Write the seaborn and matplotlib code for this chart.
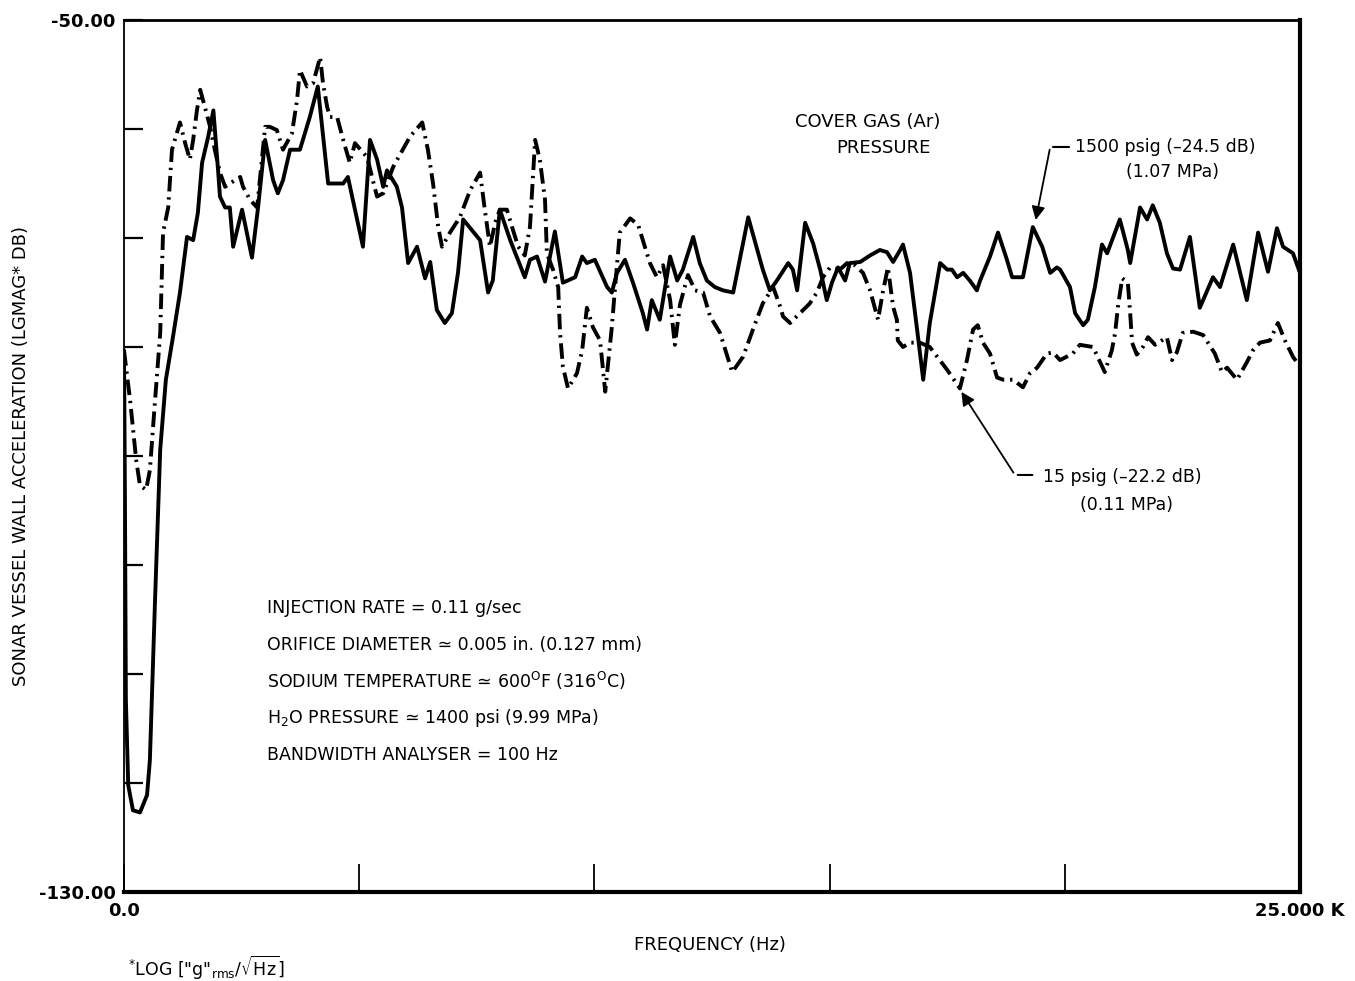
import numpy as np
import pandas as pd
import matplotlib
matplotlib.use("Agg")
import matplotlib.pyplot as plt
import seaborn as sns

# ---------------- data (frequency in kHz, level in dB) ----------------
freq_1500 = [0.00, 0.02, 0.04, 0.09, 0.19, 0.34, 0.49, 0.55, 0.66, 0.77, 0.89, 1.04, 1.19, 1.34, 1.47,
             1.57, 1.66, 1.79, 1.90, 2.00, 2.04, 2.15, 2.25, 2.32, 2.51, 2.72, 2.85, 3.00, 3.17, 3.27,
             3.38, 3.53, 3.74, 3.95, 4.12, 4.34, 4.66, 4.76, 5.08, 5.23, 5.38, 5.51, 5.59, 5.80, 5.91,
             6.04, 6.23, 6.40, 6.51, 6.65, 6.82, 6.97, 7.10, 7.21, 7.42, 7.57, 7.74, 7.84, 7.99, 8.21,
             8.52, 8.63, 8.78, 8.95, 9.16, 9.33, 9.59, 9.74, 9.84, 10.01, 10.27, 10.37, 10.48, 10.65,
             10.82, 11.03, 11.12, 11.22, 11.39, 11.61, 11.76, 11.88, 12.10, 12.24, 12.39, 12.56, 12.73,
             12.95, 13.27, 13.58, 13.73, 13.88, 14.12, 14.22, 14.31, 14.48, 14.65, 14.80, 14.94, 15.05,
             15.18, 15.33, 15.43, 15.65, 15.86, 16.07, 16.22, 16.35, 16.50, 16.56, 16.71, 16.86, 16.99,
             17.13, 17.35, 17.50, 17.60, 17.71, 17.84, 17.98, 18.13, 18.20, 18.41, 18.58, 18.77, 18.88,
             19.11, 19.32, 19.52, 19.69, 19.83, 19.90, 20.11, 20.22, 20.39, 20.49, 20.64, 20.79, 20.90,
             21.17, 21.34, 21.39, 21.60, 21.75, 21.87, 22.02, 22.17, 22.30, 22.45, 22.66, 22.87, 23.15,
             23.30, 23.58, 23.87, 24.11, 24.32, 24.51, 24.64, 24.85, 25.00]
level_1500 = [-80.3, -94.0, -112.4, -120.2, -122.5, -122.7, -121.1, -117.9, -103.2, -89.4, -83.0, -79.1,
              -75.0, -69.9, -70.2, -67.7, -63.1, -60.7, -58.3, -63.8, -66.2, -67.2, -67.2, -70.8, -67.4,
              -71.8, -67.2, -61.0, -64.7, -65.9, -64.7, -61.9, -61.9, -58.9, -56.1, -65.0, -65.0, -64.4,
              -70.8, -61.0, -62.8, -65.3, -63.8, -65.3, -67.2, -72.3, -70.8, -73.7, -72.2, -76.6, -77.8,
              -76.9, -73.2, -68.3, -69.4, -70.2, -75.0, -73.9, -67.4, -70.2, -73.6, -72.0, -71.7, -74.0,
              -69.4, -74.1, -73.6, -71.7, -72.3, -72.0, -74.5, -75.0, -73.2, -72.0, -74.1, -76.9, -78.4,
              -75.7, -77.5, -71.7, -73.9, -72.9, -69.9, -72.3, -73.9, -74.5, -74.8, -75.0, -68.1, -72.9,
              -74.8, -73.9, -72.3, -72.9, -74.8, -68.6, -70.5, -72.9, -75.7, -74.1, -72.7, -73.9, -72.3,
              -72.2, -71.6, -71.1, -71.3, -72.2, -71.1, -70.6, -73.2, -78.4, -83.0, -77.8, -72.3, -72.9,
              -72.9, -73.6, -73.2, -73.9, -74.8, -73.9, -71.7, -69.5, -72.0, -73.6, -73.6, -69.0, -70.8,
              -73.2, -72.7, -72.9, -74.5, -76.9, -78.0, -77.5, -74.5, -70.6, -71.4, -68.3, -71.1, -72.3,
              -67.2, -68.3, -67.0, -68.6, -71.4, -72.8, -72.9, -69.9, -76.4, -73.6, -74.5, -70.6, -75.7,
              -69.5, -73.1, -69.1, -70.8, -71.4, -73.2]

freq_15 = [0.00, 0.13, 0.26, 0.34, 0.47, 0.55, 0.66, 0.77, 0.83, 0.94, 1.02, 1.08, 1.19, 1.30, 1.40,
           1.47, 1.55, 1.62, 1.72, 1.83, 1.93, 2.04, 2.15, 2.25, 2.47, 2.53, 2.68, 2.83, 3.00, 3.10,
           3.25, 3.38, 3.57, 3.68, 3.74, 3.89, 4.02, 4.17, 4.23, 4.32, 4.38, 4.53, 4.66, 4.80, 4.91,
           5.17, 5.29, 5.38, 5.51, 5.72, 6.08, 6.34, 6.46, 6.57, 6.68, 6.76, 6.93, 7.14, 7.36, 7.57,
           7.67, 7.78, 7.89, 7.99, 8.14, 8.25, 8.38, 8.52, 8.63, 8.74, 8.84, 8.95, 8.99, 9.12, 9.23,
           9.27, 9.33, 9.44, 9.63, 9.74, 9.84, 9.97, 10.12, 10.23, 10.37, 10.44, 10.54, 10.76, 10.93,
           11.03, 11.18, 11.33, 11.46, 11.61, 11.71, 11.82, 11.99, 12.14, 12.31, 12.46, 12.67, 12.93,
           13.16, 13.37, 13.58, 13.80, 13.95, 14.01, 14.16, 14.37, 14.58, 14.73, 14.86, 15.01, 15.22,
           15.37, 15.54, 15.71, 15.86, 16.03, 16.13, 16.24, 16.35, 16.43, 16.45, 16.56, 16.71, 16.92,
           17.13, 17.50, 17.77, 17.92, 18.05, 18.15, 18.26, 18.41, 18.56, 18.69, 18.90, 19.11, 19.26,
           19.41, 19.62, 19.75, 19.90, 20.17, 20.32, 20.60, 20.85, 21.00, 21.07, 21.13, 21.22, 21.34,
           21.39, 21.43, 21.53, 21.66, 21.77, 21.92, 22.17, 22.28, 22.38, 22.51, 22.73, 22.94, 23.19,
           23.34, 23.45, 23.66, 23.87, 24.00, 24.15, 24.36, 24.53, 24.68, 24.85, 25.00]
level_15 = [-80.3, -84.9, -90.4, -92.7, -93.1, -91.3, -84.9, -78.7, -69.5, -67.2, -61.9, -61.0, -59.4,
            -61.3, -62.8, -61.0, -58.3, -56.4, -58.0, -59.8, -61.9, -64.0, -65.3, -65.0, -64.4, -65.3,
            -66.5, -67.2, -59.8, -59.8, -60.1, -61.9, -60.4, -57.3, -54.6, -56.1, -55.8, -53.4, -55.8,
            -58.0, -58.9, -58.9, -61.0, -63.1, -61.3, -62.6, -64.7, -66.2, -65.9, -63.5, -60.7, -59.4,
            -61.9, -65.0, -69.0, -70.8, -69.5, -68.1, -65.6, -64.0, -67.4, -70.8, -68.6, -67.4, -67.4,
            -69.0, -70.8, -71.6, -69.0, -61.0, -62.8, -66.5, -71.4, -72.9, -74.5, -78.7, -81.8, -83.8,
            -82.4, -80.3, -76.4, -78.2, -79.4, -84.1, -78.2, -74.5, -69.5, -68.2, -68.8, -70.2, -72.3,
            -73.6, -72.5, -75.7, -79.8, -76.1, -73.4, -74.8, -75.0, -77.2, -78.7, -82.3, -80.9, -78.4,
            -76.0, -74.5, -76.3, -77.2, -77.8, -76.9, -76.0, -75.0, -73.6, -72.7, -72.9, -72.3, -72.5,
            -73.2, -74.8, -77.5, -75.0, -72.7, -76.3, -77.5, -79.4, -80.0, -79.6, -79.6, -80.0, -82.1,
            -83.8, -81.2, -78.4, -78.0, -79.6, -80.6, -82.8, -83.0, -83.0, -83.7, -82.4, -81.9, -80.6,
            -80.5, -81.2, -80.6, -79.8, -80.0, -82.3, -80.3, -78.7, -76.3, -73.7, -74.1, -76.9, -79.6,
            -80.7, -80.0, -79.1, -79.8, -79.1, -81.2, -80.5, -78.7, -78.6, -78.9, -80.6, -82.3, -81.9,
            -83.0, -81.4, -80.3, -79.6, -79.4, -77.8, -79.4, -80.9, -81.8]

y_ticks = [-50, -60, -70, -80, -90, -100, -110, -120, -130]
y_ticklabels = ["-50.00", "", "", "", "", "", "", "", "-130.00"]
x_ticks = [0, 5, 10, 15, 20, 25]
x_ticklabels = ["0.0", "", "", "", "", "25.000 K"]

notes = ["INJECTION RATE = 0.11 g/sec",
         "ORIFICE DIAMETER \u2243 0.005 in. (0.127 mm)",
         "SODIUM TEMPERATURE \u2243 600$^{\\mathrm{O}}$F (316$^{\\mathrm{O}}$C)",
         "H$_{2}$O PRESSURE \u2243 1400 psi (9.99 MPa)",
         "BANDWIDTH ANALYSER = 100 Hz"]

# ---------------- plotting ----------------
sns.set_theme(style="white")
plt.rcParams["font.family"] = ["DejaVu Sans"]
plt.rcParams["axes.unicode_minus"] = False
plt.rcParams["mathtext.default"] = "regular"
plt.rcParams["text.color"] = "black"
plt.rcParams["axes.labelcolor"] = "black"

df = pd.concat([
    pd.DataFrame({"freq": freq_1500, "level": level_1500, "series": "1500 psig"}),
    pd.DataFrame({"freq": freq_15, "level": level_15, "series": "15 psig"}),
], ignore_index=True)

fig = plt.figure(figsize=(13.55, 9.81), dpi=100)
ax = fig.add_axes([124 / 1355, 1 - 892 / 981, 1176 / 1355, 872 / 981])

sns.lineplot(data=df[df.series == "1500 psig"], x="freq", y="level", ax=ax,
             color="black", lw=2.8, sort=False, estimator=None)
sns.lineplot(data=df[df.series == "15 psig"], x="freq", y="level", ax=ax,
             color="black", lw=2.8, sort=False, estimator=None)
ax.lines[1].set_linestyle((0, (4.0, 1.5, 0.6, 1.5)))

ax.set_xlim(0, 25)
ax.set_ylim(-130, -50)
ax.set_yticks(y_ticks)
ax.set_yticklabels(y_ticklabels, fontsize=13)
ax.set_xticks(x_ticks)
ax.set_xticklabels(x_ticklabels, fontsize=13)
ax.tick_params(axis="y", which="both", left=True, direction="in", length=14, width=1.6, pad=6,
               colors="black")
ax.tick_params(axis="x", which="both", bottom=True, direction="in", length=20, width=1.3, pad=7,
               colors="black")
for lab in ax.get_xticklabels() + ax.get_yticklabels():
    lab.set_fontweight("bold")

for side, w in {"left": 1.3, "bottom": 3.0, "right": 3.0, "top": 2.0}.items():
    ax.spines[side].set_visible(True)
    ax.spines[side].set_color("black")
    ax.spines[side].set_linewidth(w)

ax.set_xlabel("FREQUENCY (Hz)", fontsize=13, va="center", color="black")
ax.xaxis.set_label_coords(0.498, -0.061)
ax.set_ylabel("SONAR VESSEL WALL ACCELERATION (LGMAG* DB)", fontsize=13, va="center", color="black")
ax.yaxis.set_label_coords(-0.088, 0.5)

# annotations
ax.text(15.82, -59.4, "COVER GAS (Ar)", ha="center", va="center", fontsize=13, color="black")
ax.text(16.14, -61.7, "PRESSURE", ha="center", va="center", fontsize=13, color="black")

ax.text(20.22, -61.65, "1500 psig (\u201324.5 dB)", ha="left", va="center", fontsize=12.5, color="black")
ax.text(22.30, -63.9, "(1.07 MPa)", ha="center", va="center", fontsize=12.5, color="black")
ax.annotate("", xy=(20.15, -61.65), xytext=(19.69, -61.65),
            arrowprops=dict(arrowstyle="-", color="black", lw=1.5))
ax.annotate("", xy=(19.37, -68.6), xytext=(19.69, -61.65),
            arrowprops=dict(arrowstyle="-|>", color="black", lw=1.3, mutation_scale=20))

ax.text(19.54, -91.9, "15 psig (\u201322.2 dB)", ha="left", va="center", fontsize=12.5, color="black")
ax.text(21.32, -94.5, "(0.11 MPa)", ha="center", va="center", fontsize=12.5, color="black")
ax.annotate("", xy=(19.37, -91.74), xytext=(18.94, -91.74),
            arrowprops=dict(arrowstyle="-", color="black", lw=1.5))
ax.annotate("", xy=(17.77, -83.9), xytext=(18.94, -91.74),
            arrowprops=dict(arrowstyle="-|>", color="black", lw=1.3, mutation_scale=20))

note_y = [-103.9, -107.3, -110.6, -114.0, -117.4]
for txt, yy in zip(notes, note_y):
    ax.text(3.04, yy, txt, ha="left", va="center", fontsize=12.5, color="black")

fig.text(128 / 1355, 1 - 968 / 981,
         r'$^{*}$LOG ["g"$_{\mathrm{rms}}$/$\sqrt{\mathrm{Hz}}$]',
         ha="left", va="center", fontsize=12.5, color="black")

fig.savefig("out.png", dpi=100, facecolor="white")
